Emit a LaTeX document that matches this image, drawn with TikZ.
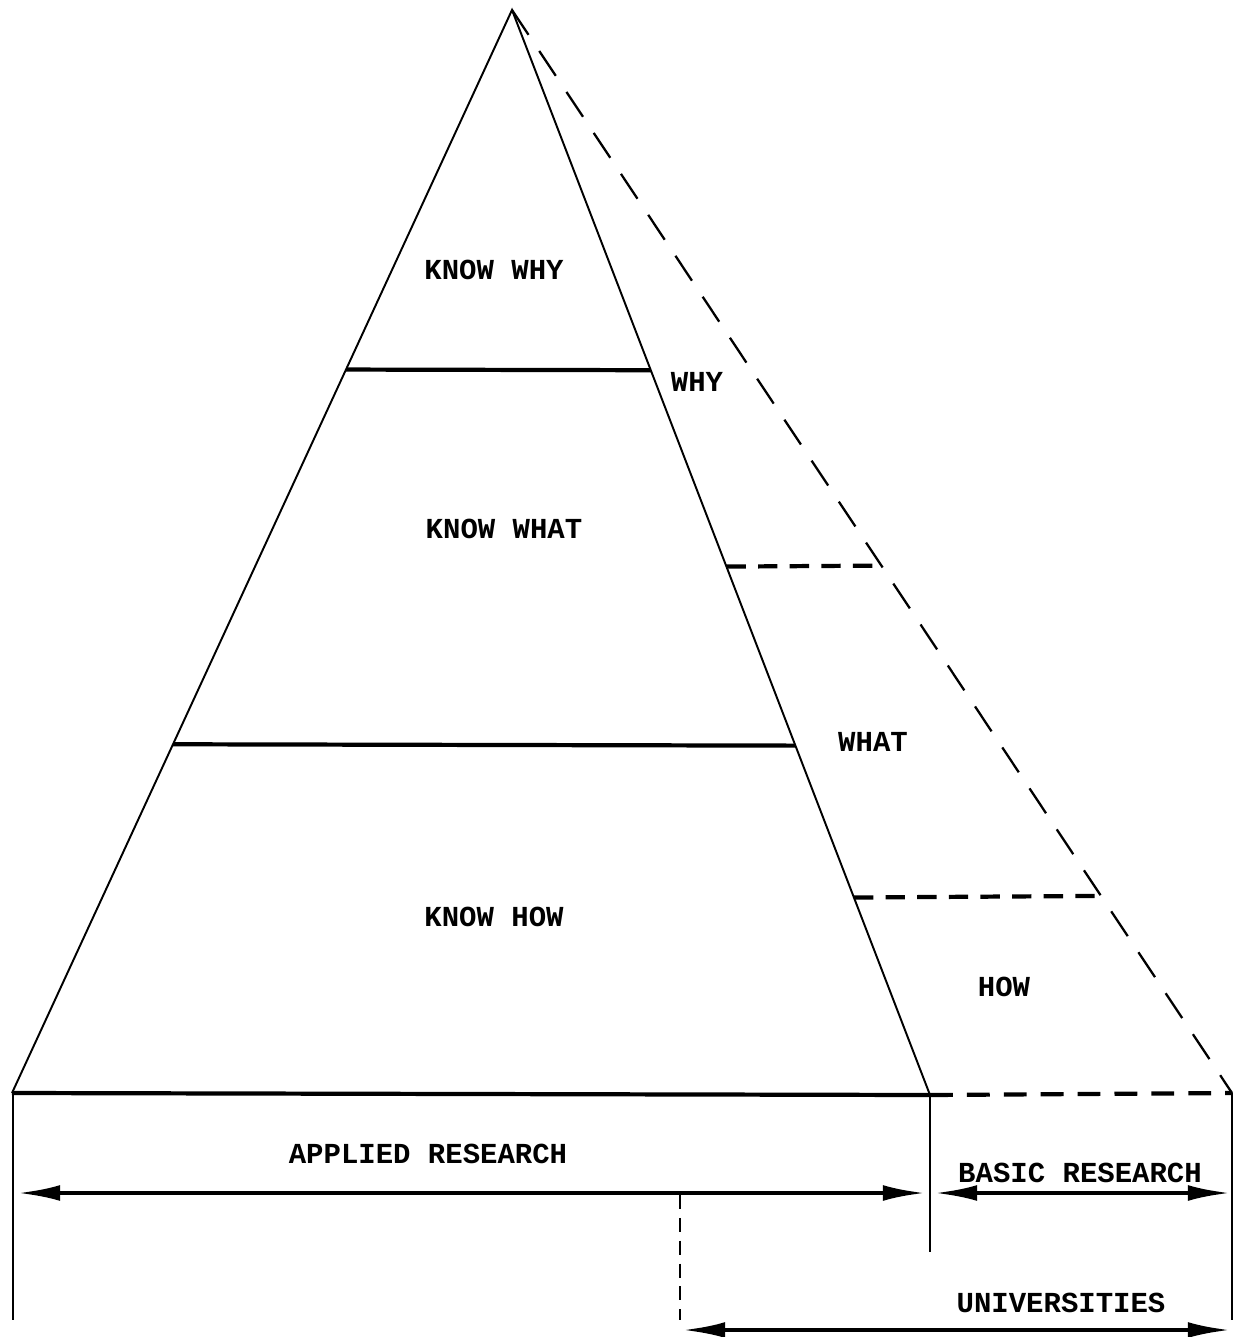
\documentclass[tikz,border=0pt]{standalone}
\usepackage{fontspec}
\setmonofont{Liberation Mono}
\usetikzlibrary{arrows.meta,calc}

\begin{document}
\begin{tikzpicture}[x=0.02cm,y=-0.02cm,
  lbl/.style={font=\ttfamily\bfseries\fontsize{16.5}{18}\selectfont,inner sep=0pt},
  side/.style={line width=1.1pt},
  tier/.style={line width=2.4pt},
  dashside/.style={line width=1.3pt,dash pattern=on 17pt off 11pt},
  dashtier/.style={line width=2.4pt,dash pattern=on 11pt off 7pt},
  dashbase/.style={line width=2.4pt,dash pattern=on 13pt off 8pt},
  dashdrop/.style={line width=1.1pt,dash pattern=on 8pt off 5pt},
  bound/.style={line width=1.1pt},
  span/.style={line width=2.2pt,{Latex[length=24pt,width=9pt]}-{Latex[length=24pt,width=9pt]}}]
\useasboundingbox (0,0) rectangle (1238,1337);

\coordinate (apex) at (512,10);
\coordinate (bl) at (12,1093);
\coordinate (br) at (930,1095);
\coordinate (bd) at (1232,1093);

\draw[side] (bl) -- (apex) -- (br);
\draw[dashside] (apex) -- (bd);

\coordinate (t1l) at ($(apex)!0.332!(bl)$);
\coordinate (t1r) at ($(apex)!0.332!(br)$);
\coordinate (t2l) at ($(apex)!0.678!(bl)$);
\coordinate (t2r) at ($(apex)!0.678!(br)$);
\coordinate (d1l) at ($(apex)!0.513!(br)$);
\coordinate (d1r) at ($(apex)!0.513!(bd)$);
\coordinate (d2l) at ($(apex)!0.818!(br)$);
\coordinate (d2r) at ($(apex)!0.818!(bd)$);

\draw[tier] (t1l) -- (t1r);
\draw[tier] (t2l) -- (t2r);
\draw[tier] (bl) -- (br);
\draw[dashtier] (d1l) -- (d1r);
\draw[dashtier] (d2l) -- (d2r);
\draw[dashbase] (br) -- (bd);

\coordinate (lowl) at (13,1320);
\coordinate (lowm) at (930,1252);
\coordinate (lowr) at (1232,1320);
\coordinate (uni1) at (680,1195);
\coordinate (uni2) at (680,1320);
\draw[bound] (13,1093) -- (lowl);
\draw[bound] (br) -- (lowm);
\draw[bound] (bd) -- (lowr);
\draw[dashdrop] (uni1) -- (uni2);

\coordinate (a1) at (18,1193);
\coordinate (a2) at (925,1193);
\coordinate (b1) at (935,1193);
\coordinate (b2) at (1230,1193);
\coordinate (u1) at (683,1330);
\coordinate (u2) at (1230,1330);
\draw[span] (a1) -- (a2);
\draw[span] (b1) -- (b2);
\draw[span] (u1) -- (u2);

\node[lbl] (kwhy) at (494,270) {KNOW WHY};
\node[lbl] (why) at (697,382) {WHY};
\node[lbl] (kwhat) at (504,529) {KNOW WHAT};
\node[lbl] (what) at (873,742) {WHAT};
\node[lbl] (khow) at (494,917) {KNOW HOW};
\node[lbl] (how) at (1004,987) {HOW};
\node[lbl] (applied) at (428,1154) {APPLIED RESEARCH};
\node[lbl] (basic) at (1080,1173) {BASIC RESEARCH};
\node[lbl] (unis) at (1061,1303) {UNIVERSITIES};

\end{tikzpicture}
\end{document}
